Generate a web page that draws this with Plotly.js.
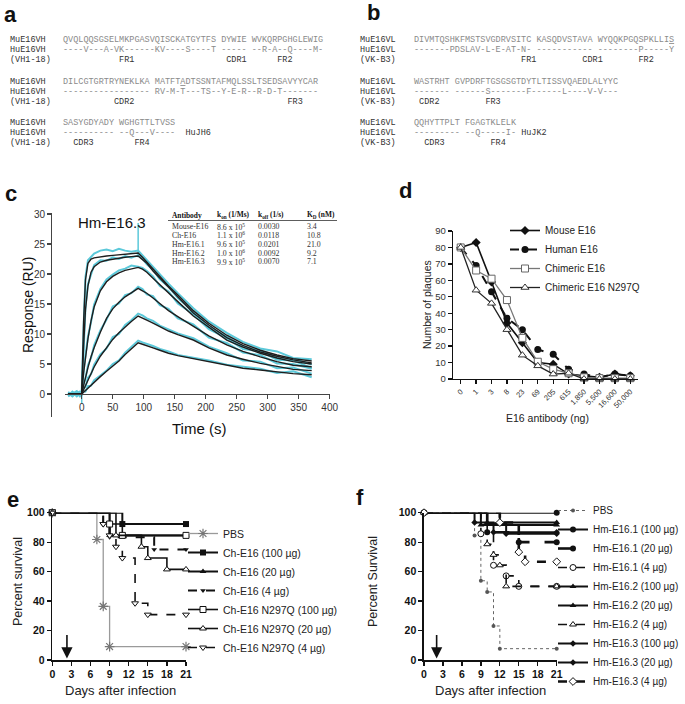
<!DOCTYPE html>
<html><head><meta charset="utf-8">
<script src="https://cdn.plot.ly/plotly-3.0.1.min.js"></script>
<style>html,body{margin:0;padding:0;background:#fff}#chart{width:685px;height:704px}</style>
</head><body><div id="chart"></div>
<script>
// ---------- panel a/b sequence data ----------
const aMu1 = "QVQLQQSGSELMKPGASVQISCKATGYTFS DYWIE WVKQRPGHGLEWIG";
const aHu1 = "----V---A-VK------KV----S----T ----- --R-A--Q----M-";
const aMu2 = "DILCGTGRTRYNEKLKA MATFT<u>A</u>DTSSNTAFMQLSSLTSEDSAVYYCAR";
const aHu2 = "----------------- RV-M-T---TS--Y-E-R--R-D-T-------";
const aMu3 = "SASYGDYADY WGHGTTLTVSS";
const aHu3 = "---------- --Q---V----";
const aGerm = ["(VH1-18)", "HuJH6"];
const aRegions = [["FR1","CDR1","FR2"],["CDR2","FR3"],["CDR3","FR4"]];
const aNames = ["MuE16VH","HuE16VH"];

const bMu1 = "DIVMTQSHKFMSTSVGDRVSITC KASQDVSTAVA WYQQKPGQSPKLLI<u>S</u>";
const bHu1 = "-------PDSLAV-L-E-AT-N- ----------- --------P-----Y";
const bMu2 = "WASTRHT GVPDRFTGSGSGTDYTLTISSVQAEDLALYYC";
const bHu2 = "------- ------S-------F------L----V-V---";
const bMu3 = "QQHYTTPLT FGAGTKLELK";
const bHu3 = "--------- --Q-----I-";
const bGerm = ["(VK-B3)", "HuJK2"];
const bRegions = [["FR1","CDR1","FR2"],["CDR2","FR3"],["CDR3","FR4"]];
const bNames = ["MuE16VL","HuE16VL"];

// ---------- panel c: kinetics table ----------
const tabAb = ["Mouse-E16","Ch-E16","Hm-E16.1","Hm-E16.2","Hm-E16.3"];
const konMant = [8.6, 1.1, 9.6, 1.0, 9.9];
const konExp = [5, 6, 5, 6, 5];
const koff = ["0.0030","0.0118","0.0201","0.0092","0.0070"];
const kd = ["3.4","10.8","21.0","9.2","7.1"];

// ---------- panel c: sensorgram (Hm-E16.3) ----------
const tFit = [-22,0,3,6,10,15,20,30,40,50,60,70,80,91,98,105,115,126,140,155,180,205,234,260,288,315,341,371];
const fit1 = [0,0,12,19,21.8,22.5,22.7,22.9,23.0,23.1,23.2,23.3,23.4,23.5,22.8,22.0,20.8,19.6,18.0,16.5,13.9,11.8,9.8,8.4,7.3,6.5,5.9,5.5];
const fit2 = [0,0,8,14,18,20.3,21.2,22.0,22.3,22.5,22.6,22.8,22.9,23.0,22.4,21.8,20.5,19.3,17.8,16.2,13.5,11.5,9.4,8.1,7.0,6.3,5.7,5.2];
const fit3 = [0,0,3.5,6.3,9.2,12.2,14.5,17.2,18.7,19.6,20.2,20.6,20.9,21.1,20.8,20.3,19.3,18.2,16.8,15.4,13.0,11.1,9.0,7.8,6.8,6.0,5.4,5.0];
const fit4 = [0,0,1.4,2.8,4.4,6.2,7.7,10.3,12.6,14.2,15.3,16.2,16.9,17.6,17.2,16.8,16.0,15.1,13.9,12.9,11.3,9.7,8.2,7.1,6.2,5.4,4.8,4.55];
const fit5 = [0,0,0.7,1.4,2.4,3.5,4.5,6.3,7.8,9.1,10.2,11.2,12.1,13.0,12.7,12.3,11.8,11.2,10.5,9.9,9.0,7.7,6.5,5.8,5.1,4.6,4.1,3.9];
const fit6 = [0,0,0.3,0.6,1.0,1.5,2.0,2.9,3.8,4.7,5.5,6.6,7.6,8.55,8.3,8.0,7.7,7.3,6.8,6.4,5.9,5.3,4.7,4.3,4.0,3.7,3.4,3.2];

const tRaw = [-22,-15,-8,-3,0,3,6,10,15,20,30,40,50,60,70,80,91,98,105,115,126,140,155,180,205,234,260,288,315,341,371];
const raw1 = [-0.3,0.4,-0.2,0.3,0.5,11,19.5,22.3,22.9,23.4,23.9,24.1,23.8,24.2,23.9,23.7,23.9,23.1,22.4,21.2,19.9,18.4,16.8,14.3,12.1,10.2,8.7,7.6,7.1,6.0,5.8];
const raw2 = [0.2,-0.4,0.3,-0.1,0,7.5,14.4,18.3,20.1,21.5,22.3,22.2,22.8,22.5,23.0,22.7,23.1,22.6,21.6,20.7,19.1,17.9,16.0,13.7,11.2,9.6,7.9,7.3,6.0,5.9,4.9];
const raw3 = [-0.4,0.1,0.5,-0.3,-0.2,3.9,6.0,9.6,12.0,14.9,17.5,19.1,19.9,20.6,20.9,21.4,21.2,21.0,20.5,19.6,18.0,17.1,15.1,13.3,10.8,9.3,7.5,7.1,5.7,5.6,4.3];
const raw4 = [0.1,-0.3,0.2,0.4,0.3,1.8,2.6,4.8,6.0,8.1,10.6,12.4,14.6,15.1,16.5,16.8,17.9,17.5,16.6,16.3,14.8,14.2,12.6,11.6,9.4,8.5,6.9,6.5,5.1,5.0,4.2];
const raw5 = [-0.2,0.3,-0.4,0.1,0,1.0,1.2,2.7,3.3,4.9,6.6,7.6,9.5,10.0,11.5,12.3,13.4,13.1,12.6,12.2,11.4,10.8,10.1,9.3,7.9,6.8,5.6,5.4,4.3,4.4,3.4];
const raw6 = [0.3,-0.1,0.2,-0.4,0.1,0.5,0.4,1.3,1.4,2.3,3.1,3.9,5.0,5.6,6.9,7.8,8.9,8.6,8.4,8.0,7.5,7.1,6.5,6.1,5.6,4.9,4.6,4.2,3.5,3.8,2.8];
const spikeT = [0,0,null,91,91];
const spikeV = [-1.6,1.4,null,22.8,28.5];

// ---------- panel d: plaque reduction ----------
const doseLabels = ["0","1","3","8","23","69","205","615","1,850","5,500","16,600","50,000"];
const plaqMouse = [80,83,59,34,22,10,9,3,2,1,3,2];
const plaqHuman = [80,69,53,37,30,18,15,6,3,1,3,2];
const plaqChim = [80,66,61,48,25,10.5,6,3.5,1,0.5,0.5,0.5];
const plaqN297Q = [80,54,46,30,14.5,8,3,3.5,0,0,0,0];
const dNames = ["Mouse E16","Human E16","Chimeric E16","Chimeric E16 N297Q"];

// ---------- panel e: survival ----------
const eNames = ["PBS","Ch-E16 (100 µg)","Ch-E16 (20 µg)","Ch-E16 (4 µg)","Ch-E16 N297Q (100 µg)","Ch-E16 N297Q (20 µg)","Ch-E16 N297Q (4 µg)"];
const eDays = [
  [0,7,8,9,21],
  [0,11,21],
  [0,9,21],
  [0,8,9,16,21],
  [0,9,11,21],
  [0,10,14,15,18,21],
  [0,8,9,10,11,13,15,21]
];
const eSurv = [
  [100,81.8,36.4,9.1,9.1],
  [100,92.3,92.3],
  [100,84.6,84.6],
  [100,91.7,83.3,75,75],
  [100,92.3,84.6,84.6],
  [100,84.6,76.9,69.2,61.5,61.5],
  [100,92.3,84.6,76.9,69.2,38.5,30.8,30.8]
];

// ---------- panel f: survival ----------
const fNames = ["PBS","Hm-E16.1 (100 µg)","Hm-E16.1 (20 µg)","Hm-E16.1 (4 µg)","Hm-E16.2 (100 µg)","Hm-E16.2 (20 µg)","Hm-E16.2 (4 µg)","Hm-E16.3 (100 µg)","Hm-E16.3 (20 µg)","Hm-E16.3 (4 µg)"];
const fDays = [
  [0,8,9,10,11,12,21],
  [0,21],
  [0,10,15,21],
  [0,9,11,13,15,21],
  [0,12,21],
  [0,9,21],
  [0,10,11,12,13,21],
  [0,8,11,21],
  [0,10,13,21],
  [0,12,15,16,21]
];
const fSurv = [
  [100,84.6,53.8,46.2,23.1,7.7,7.7],
  [100,100],
  [100,86.7,80,80],
  [100,85.7,64.3,57.1,50,50],
  [100,93.3,93.3],
  [100,91.7,91.7],
  [100,78.6,71.4,64.3,50,50],
  [100,93.3,86.7,86.7],
  [100,92.9,85.7,85.7],
  [100,93.3,73.3,66.7,66.7]
];
const treatDayE = 2.3;
const treatDayF = 2.0;

// ================= layout helpers =================
const W = 685, H = 704;
const X = px => px / W;
const Y = py => 1 - py / H;
const SANS = 'Liberation Sans, Arial, sans-serif';
const NARROW = 'Liberation Sans Narrow, Liberation Sans, Arial, sans-serif';
const MONO = 'Liberation Mono, DejaVu Sans Mono, monospace';
const SERIF = 'Liberation Serif, Times New Roman, serif';
const nb = s => s.replace(/ /g, '\u00a0');
const ann = [];
function txt(px, py, text, size, opts) {
  opts = opts || {};
  ann.push(Object.assign({
    xref: 'paper', yref: 'paper', x: X(px), y: Y(py), text: text, showarrow: false,
    xanchor: 'center', yanchor: 'middle'
  }, opts, {font: Object.assign({family: SANS, size: size, color: '#222'}, opts.font || {})}));
}
function row(items) {
  let s = '';
  items.forEach(([start, t]) => { while (s.length < start) s += ' '; s += t; });
  return nb(s);
}

// ---- sequences ----
const SEQ = '#8a8a8a', LAB = '#333';
function seqBlock(x0, xs, names, germ, mus, hus, regions, regPos, jPos, ys) {
  for (let b = 0; b < 3; b++) {
    const y = ys[b];
    txt(x0, y, names[0], 8.5, {xanchor: 'left', font: {family: MONO, color: LAB}});
    txt(x0, y + 10, names[1], 8.5, {xanchor: 'left', font: {family: MONO, color: LAB}});
    txt(x0, y + 20, germ[0], 8.5, {xanchor: 'left', font: {family: MONO, color: LAB}});
    txt(xs, y, nb(mus[b]), 8.5, {xanchor: 'left', font: {family: MONO, color: SEQ}});
    let hu = hus[b];
    if (b === 2) { while (hu.length < jPos) hu += ' '; }
    let huTxt = nb(hu);
    if (b === 2) huTxt += '<span style="color:#333">' + germ[1] + '</span>';
    txt(xs, y + 10, huTxt, 8.5, {xanchor: 'left', font: {family: MONO, color: SEQ}});
    txt(xs, y + 20, row(regions[b].map((r, i) => [regPos[b][i], r])), 8.5, {xanchor: 'left', font: {family: MONO, color: LAB}});
  }
}
seqBlock(8, 61, aNames, aGerm, [aMu1, aMu2, aMu3], [aHu1, aHu2, aHu3], aRegions,
  [[11, 32, 42], [10, 44], [2, 14]], 24, [40, 82, 123]);
seqBlock(358, 412, bNames, bGerm, [bMu1, bMu2, bMu3], [bHu1, bHu2, bHu3], bRegions,
  [[21, 33, 44], [1, 14], [2, 15]], 21, [40, 82, 123]);

// ---- panel letters ----
[['a', 10, 14], ['b', 373, 13], ['c', 11, 193], ['d', 405, 191], ['e', 13, 499], ['f', 360, 497]]
  .forEach(([l, x, y]) => txt(x, y, '<b>' + l + '</b>', 22, {font: {color: '#111'}}));

// ---- panel c texts ----
txt(112, 222, 'Hm-E16.3', 15, {font: {color: '#111'}});
txt(28, 305, 'Response (RU)', 14, {textangle: -90, font: {color: '#111'}});
txt(199, 428, 'Time (s)', 15, {font: {color: '#111'}});
const colX = [170, 215, 256, 305];
['<b>Antibody</b>', '<b>k<sub>on</sub> (1/Ms)</b>', '<b>k<sub>off</sub> (1/s)</b>', '<b>K<sub>D</sub> (nM)</b>']
  .forEach((h, i) => txt(colX[i], 215, h, 7.4, {xanchor: 'left', font: {family: SERIF, color: '#111'}}));
tabAb.forEach((ab, i) => {
  const y = 226.7 + i * 8.8;
  const f = {family: SERIF, color: '#333'};
  txt(colX[0], y, ab, 7.8, {xanchor: 'left', font: f});
  txt(colX[1], y, konMant[i].toFixed(1) + ' x 10<sup>' + konExp[i] + '</sup>', 7.8, {xanchor: 'left', font: f});
  txt(colX[2], y, koff[i], 7.8, {xanchor: 'left', font: f});
  txt(colX[3], y, kd[i], 7.8, {xanchor: 'left', font: f});
});

// ---- panel d texts ----
txt(427, 305, 'Number of plaques', 10.5, {textangle: -90});
txt(547, 418, 'E16 antibody (ng)', 10.5);
// ---- panel e/f texts ----
txt(18, 582, 'Percent survival', 12.5, {textangle: -90});
txt(120, 690, 'Days after infection', 13);
txt(373, 582, 'Percent Survival', 12.5, {textangle: -90});
txt(490, 690, 'Days after infection', 13);

// arrows (treatment day)
[['x3', 'y3', treatDayE], ['x4', 'y4', treatDayF]].forEach(([xa, ya, d]) => {
  ann.push({xref: xa, yref: ya, x: d, y: 1, axref: xa, ayref: ya,
    ax: d, ay: 18, showarrow: true, arrowhead: 2, arrowsize: 1.4,
    arrowwidth: 1.6, arrowcolor: '#111', text: ''});
});

// ================= traces =================
const traces = [];
const CYAN = '#5cc9da';
[raw1, raw2, raw3, raw4, raw5, raw6].forEach(r => traces.push({
  x: tRaw, y: r, mode: 'lines', line: {color: CYAN, width: 2}, xaxis: 'x', yaxis: 'y', showlegend: false, hoverinfo: 'skip'}));
traces.push({x: spikeT, y: spikeV, mode: 'lines', line: {color: CYAN, width: 1.5}, xaxis: 'x', yaxis: 'y', showlegend: false});
[fit1, fit2, fit3, fit4, fit5, fit6].forEach(f => traces.push({
  x: tFit, y: f, mode: 'lines', line: {color: '#1e1e1e', width: 1.4}, xaxis: 'x', yaxis: 'y', showlegend: false}));

// panel d
const dStyles = [
  {line: {color: '#111', width: 1.6}, marker: {symbol: 'diamond', size: 7, color: '#111'}},
  {line: {color: '#111', width: 2, dash: 'dash'}, marker: {symbol: 'circle', size: 7, color: '#111'}},
  {line: {color: '#777', width: 1.3}, marker: {symbol: 'square', size: 7, color: '#fff', line: {color: '#666', width: 1}}},
  {line: {color: '#222', width: 1.3}, marker: {symbol: 'triangle-up', size: 7, color: '#fff', line: {color: '#333', width: 1}}}
];
[plaqMouse, plaqHuman, plaqChim, plaqN297Q].forEach((v, i) => traces.push(Object.assign({
  x: doseLabels, y: v, name: dNames[i], mode: 'lines+markers', xaxis: 'x2', yaxis: 'y2', legend: 'legend', cliponaxis: false}, dStyles[i])));

// panel e
const eStyles = [
  {line: {color: '#9a9a9a', width: 1.3}, marker: {symbol: 'asterisk-open', size: 8, color: '#777', line: {color: '#777', width: 1.2}}},
  {line: {color: '#111', width: 2}, marker: {symbol: 'square', size: 6, color: '#111'}},
  {line: {color: '#111', width: 2}, marker: {symbol: 'triangle-up', size: 6, color: '#111'}},
  {line: {color: '#111', width: 2, dash: 'dash'}, marker: {symbol: 'triangle-down', size: 5, color: '#111'}},
  {line: {color: '#111', width: 1.6}, marker: {symbol: 'square', size: 6, color: '#fff', line: {color: '#111', width: 1}}},
  {line: {color: '#111', width: 1.6}, marker: {symbol: 'triangle-up', size: 6, color: '#fff', line: {color: '#111', width: 1}}},
  {line: {color: '#111', width: 1.6, dash: 'dash'}, marker: {symbol: 'triangle-down', size: 6, color: '#fff', line: {color: '#111', width: 1}}}
];
eDays.forEach((d, i) => traces.push(Object.assign({
  x: d, y: eSurv[i], name: eNames[i], mode: 'lines+markers', xaxis: 'x3', yaxis: 'y3', legend: 'legend2', cliponaxis: false}, eStyles[i],
  {line: Object.assign({shape: 'hv'}, eStyles[i].line)})));

// panel f
const fStyles = [
  {line: {color: '#666', width: 1, dash: 'dot'}, marker: {symbol: 'circle', size: 4, color: '#555'}},
  {line: {color: '#111', width: 2}, marker: {symbol: 'circle', size: 6, color: '#111'}},
  {line: {color: '#111', width: 2.6, dash: 'longdash'}, marker: {symbol: 'circle', size: 6, color: '#111'}},
  {line: {color: '#111', width: 1.6, dash: 'dash'}, marker: {symbol: 'circle', size: 6, color: '#fff', line: {color: '#111', width: 1}}},
  {line: {color: '#111', width: 2}, marker: {symbol: 'triangle-up', size: 6, color: '#111'}},
  {line: {color: '#111', width: 2}, marker: {symbol: 'triangle-up', size: 6, color: '#111'}},
  {line: {color: '#111', width: 1.6, dash: 'dash'}, marker: {symbol: 'triangle-up', size: 6, color: '#fff', line: {color: '#111', width: 1}}},
  {line: {color: '#111', width: 2}, marker: {symbol: 'diamond', size: 5, color: '#111'}},
  {line: {color: '#111', width: 2}, marker: {symbol: 'diamond', size: 5, color: '#111'}},
  {line: {color: '#111', width: 2.6, dash: 'dash'}, marker: {symbol: 'diamond', size: 6, color: '#fff', line: {color: '#111', width: 1}}}
];
fDays.forEach((d, i) => traces.push(Object.assign({
  x: d, y: fSurv[i], name: fNames[i], mode: 'lines+markers', xaxis: 'x4', yaxis: 'y4', legend: 'legend3', cliponaxis: false}, fStyles[i],
  {line: Object.assign({shape: 'hv'}, fStyles[i].line)})));

// ================= axes =================
const axBase = {showgrid: false, zeroline: false, showline: true, linecolor: '#444', linewidth: 1.3,
  ticks: 'outside', ticklen: 4, tickwidth: 1.3, tickcolor: '#444', fixedrange: true};
const legBase = {font: {family: SANS, size: 10, color: '#222'}, bgcolor: 'rgba(0,0,0,0)', itemwidth: 30,
  tracegroupgap: 0, xanchor: 'left', yanchor: 'top', traceorder: 'normal', itemclick: false};

const layout = {
  width: W, height: H, margin: {l: 0, r: 0, t: 0, b: 0}, paper_bgcolor: '#fff', plot_bgcolor: 'rgba(0,0,0,0)',
  showlegend: true, font: {family: SANS, color: '#222'},
  xaxis: Object.assign({}, axBase, {domain: [X(65), X(330)], range: [-27, 400.5], anchor: 'free', position: Y(394),
    tickvals: [0, 50, 100, 150, 200, 250, 300, 350, 400], tickfont: {family: NARROW, size: 10, color: '#333'}}),
  yaxis: Object.assign({}, axBase, {domain: [Y(417), Y(213)], range: [-3.83, 30.17], anchor: 'free', position: X(51),
    tickvals: [0, 5, 10, 15, 20, 25, 30], tickfont: {family: NARROW, size: 10, color: '#333'}}),
  xaxis2: Object.assign({}, axBase, {domain: [X(453), X(638)], type: 'category', range: [-0.5, 11.5], anchor: 'y2',
    tickangle: -45, tickfont: {size: 7.5, color: '#333'}, linecolor: '#111', tickcolor: '#111'}),
  yaxis2: Object.assign({}, axBase, {domain: [Y(379), Y(231)], range: [0, 90], anchor: 'x2', dtick: 10,
    tickfont: {size: 9.5, color: '#333'}, linecolor: '#111', tickcolor: '#111'}),
  xaxis3: Object.assign({}, axBase, {domain: [X(52.3), X(186)], range: [0, 21], anchor: 'y3', dtick: 3,
    tickfont: {size: 10.5, color: '#111', weight: 'bold'}, linecolor: '#111', tickcolor: '#111', linewidth: 1.6}),
  yaxis3: Object.assign({}, axBase, {domain: [Y(660), Y(512.7)], range: [0, 100], anchor: 'x3', dtick: 20,
    tickfont: {size: 10.5, color: '#111', weight: 'bold'}, linecolor: '#111', tickcolor: '#111', linewidth: 1.6}),
  xaxis4: Object.assign({}, axBase, {domain: [X(424), X(556.7)], range: [0, 21], anchor: 'y4', dtick: 3,
    tickfont: {size: 10.5, color: '#111', weight: 'bold'}, linecolor: '#111', tickcolor: '#111', linewidth: 1.6}),
  yaxis4: Object.assign({}, axBase, {domain: [Y(660), Y(512.7)], range: [0, 100], anchor: 'x4', dtick: 20,
    tickfont: {size: 10.5, color: '#111', weight: 'bold'}, linecolor: '#111', tickcolor: '#111', linewidth: 1.6}),
  legend: Object.assign({}, legBase, {x: X(505), y: Y(216)}),
  legend2: Object.assign({}, legBase, {x: X(183), y: Y(519), font: {family: SANS, size: 10.5, color: '#222'}}),
  legend3: Object.assign({}, legBase, {x: X(553), y: Y(496)}),
  shapes: [{type: 'line', xref: 'paper', yref: 'paper', x0: X(168), x1: X(337), y0: Y(220.5), y1: Y(220.5),
    line: {color: '#333', width: 0.8}}],
  annotations: ann
};

Plotly.newPlot('chart', traces, layout, {staticPlot: true, displayModeBar: false});
</script></body></html>
